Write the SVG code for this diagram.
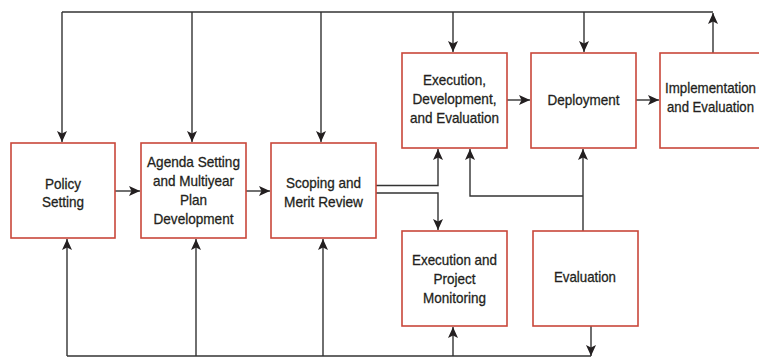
<svg xmlns="http://www.w3.org/2000/svg" width="759" height="358" viewBox="0 0 759 358">
<style>
.box{fill:#fff;stroke:#c9473a;stroke-width:1.6}
.lbl{font-family:"Liberation Sans",Arial,sans-serif;font-size:15px;fill:#231f20;stroke:#231f20;stroke-width:0.3;text-anchor:middle}
.c{fill:none;stroke:#333;stroke-width:1.4}
</style>
<defs>
<marker id="ah" markerUnits="userSpaceOnUse" markerWidth="12" markerHeight="12" viewBox="0 0 12 10" refX="11" refY="5" orient="auto">
<path d="M0,0 L11,5 L0,10 L2.5,5 z" fill="#231f20"/>
</marker>
</defs>
<g id="connectors">
<path class="c" d="M62,12 H713"/>
<path class="c" d="M62,12 V142" marker-end="url(#ah)"/>
<path class="c" d="M192,12 V142" marker-end="url(#ah)"/>
<path class="c" d="M321,12 V142" marker-end="url(#ah)"/>
<path class="c" d="M453,12 V52" marker-end="url(#ah)"/>
<path class="c" d="M584,12 V52" marker-end="url(#ah)"/>
<path class="c" d="M713,53 V13" marker-end="url(#ah)"/>
<path class="c" d="M115,191 H140" marker-end="url(#ah)"/>
<path class="c" d="M246,191 H270" marker-end="url(#ah)"/>
<path class="c" d="M507,100 H530" marker-end="url(#ah)"/>
<path class="c" d="M636,100 H659" marker-end="url(#ah)"/>
<path class="c" d="M376,185.5 H438 V149" marker-end="url(#ah)"/>
<path class="c" d="M376,193 H438 V230" marker-end="url(#ah)"/>
<path class="c" d="M583,231 V149" marker-end="url(#ah)"/>
<path class="c" d="M583,196 H470 V149" marker-end="url(#ah)"/>
<path class="c" d="M67,356 H591"/>
<path class="c" d="M67,356 V239" marker-end="url(#ah)"/>
<path class="c" d="M196,356 V239" marker-end="url(#ah)"/>
<path class="c" d="M323,356 V239" marker-end="url(#ah)"/>
<path class="c" d="M453,356 V327" marker-end="url(#ah)"/>
<path class="c" d="M591,326 V356" marker-end="url(#ah)"/>
</g>
<g id="policy">
<rect class="box" x="11" y="143" width="104" height="95"/>
<text class="lbl" x="63" y="189" textLength="36" lengthAdjust="spacingAndGlyphs">Policy</text>
<text class="lbl" x="63" y="207" textLength="42" lengthAdjust="spacingAndGlyphs">Setting</text>
</g>
<g id="agenda">
<rect class="box" x="141" y="143" width="105" height="95"/>
<text class="lbl" x="193.5" y="167" textLength="93" lengthAdjust="spacingAndGlyphs">Agenda Setting</text>
<text class="lbl" x="193.5" y="186" textLength="81" lengthAdjust="spacingAndGlyphs">and Multiyear</text>
<text class="lbl" x="193.5" y="205" textLength="27" lengthAdjust="spacingAndGlyphs">Plan</text>
<text class="lbl" x="193.5" y="224" textLength="80" lengthAdjust="spacingAndGlyphs">Development</text>
</g>
<g id="scoping">
<rect class="box" x="271" y="143" width="105" height="95"/>
<text class="lbl" x="323.5" y="188" textLength="75" lengthAdjust="spacingAndGlyphs">Scoping and</text>
<text class="lbl" x="323.5" y="207" textLength="79" lengthAdjust="spacingAndGlyphs">Merit Review</text>
</g>
<g id="execdev">
<rect class="box" x="402" y="53" width="105" height="95"/>
<text class="lbl" x="454.5" y="85" textLength="63" lengthAdjust="spacingAndGlyphs">Execution,</text>
<text class="lbl" x="454.5" y="104" textLength="84" lengthAdjust="spacingAndGlyphs">Development,</text>
<text class="lbl" x="454.5" y="123" textLength="89" lengthAdjust="spacingAndGlyphs">and Evaluation</text>
</g>
<g id="deployment">
<rect class="box" x="531" y="53" width="105" height="95"/>
<text class="lbl" x="583.5" y="105" textLength="72" lengthAdjust="spacingAndGlyphs">Deployment</text>
</g>
<g id="implementation">
<rect class="box" x="660" y="53" width="105" height="95"/>
<text class="lbl" x="710.5" y="93" textLength="91" lengthAdjust="spacingAndGlyphs">Implementation</text>
<text class="lbl" x="710.5" y="112" textLength="87" lengthAdjust="spacingAndGlyphs">and Evaluation</text>
</g>
<g id="execproj">
<rect class="box" x="402" y="231" width="105" height="95"/>
<text class="lbl" x="454.5" y="265" textLength="85" lengthAdjust="spacingAndGlyphs">Execution and</text>
<text class="lbl" x="454.5" y="284" textLength="42" lengthAdjust="spacingAndGlyphs">Project</text>
<text class="lbl" x="454.5" y="303" textLength="63" lengthAdjust="spacingAndGlyphs">Monitoring</text>
</g>
<g id="evaluation">
<rect class="box" x="533" y="231" width="105" height="95"/>
<text class="lbl" x="585" y="282" textLength="62" lengthAdjust="spacingAndGlyphs">Evaluation</text>
</g>
</svg>
